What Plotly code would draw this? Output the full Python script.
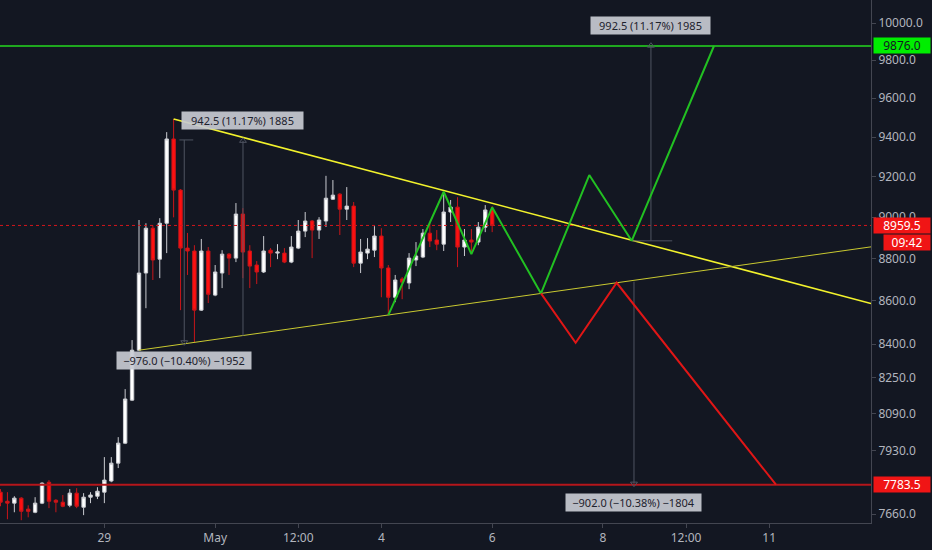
import math
import pandas as pd
import plotly.graph_objects as go

# BTC 3h candles, 27 Apr 03:00 -> 6 May 00:00
opens = [7752, 7714, 7706, 7727, 7681, 7668, 7706, 7794, 7718, 7710, 7697, 7748, 7689, 7731, 7735,
         7752, 7799, 7875, 7961, 8149, 8373, 8731, 8946, 8797, 8970, 9390, 9133, 8850, 8836, 8557,
         8836, 8627, 8731, 8821, 8802, 9015, 8836, 8769, 8736, 8840, 8826, 8826, 8783, 8850, 8932,
         8981, 8937, 8981, 9088, 9113, 9039, 9054, 8778, 8826, 8840, 8908, 8755, 8617, 8703, 8684,
         8793, 8807, 8922, 8889, 8869, 9025, 9049, 8855, 8889, 8879, 8951, 9035]
highs = [7765, 7752, 7735, 7731, 7697, 7731, 7794, 7803, 7723, 7740, 7765, 7769, 7748, 7752, 7773,
         7901, 7901, 7987, 8198, 8419, 8986, 8970, 8960, 8995, 9425, 9492, 9138, 8923, 8864, 8894,
         8855, 8769, 8840, 8826, 9069, 9044, 8864, 8788, 8908, 8850, 8869, 8850, 8908, 8986, 9025,
         8986, 9000, 9204, 9183, 9118, 9148, 9074, 8894, 8898, 8956, 8946, 8769, 8722, 8712, 8826,
         8879, 8942, 8970, 8937, 9123, 9084, 9098, 8942, 8942, 8976, 9059, 9054]
lows = [7693, 7639, 7668, 7635, 7647, 7664, 7702, 7685, 7668, 7689, 7689, 7685, 7656, 7706, 7723,
        7706, 7794, 7854, 7957, 8145, 8369, 8566, 8698, 8707, 8826, 8999, 8557, 8722, 8409, 8553,
        8590, 8622, 8660, 8722, 8783, 8707, 8660, 8679, 8731, 8759, 8797, 8778, 8778, 8845, 8903,
        8802, 8894, 8952, 9084, 8913, 8986, 8759, 8731, 8797, 8807, 8617, 8534, 8594, 8608, 8655,
        8764, 8802, 8855, 8840, 8836, 8976, 8759, 8812, 8831, 8864, 8927, 8927]
closes = [7710, 7706, 7727, 7672, 7672, 7706, 7790, 7714, 7710, 7693, 7748, 7693, 7731, 7740, 7756,
          7803, 7875, 7961, 8154, 8373, 8731, 8946, 8793, 8970, 9390, 9133, 8850, 8836, 8557, 8836,
          8631, 8736, 8821, 8802, 9015, 8831, 8764, 8736, 8836, 8826, 8831, 8783, 8855, 8932, 8981,
          8937, 8986, 9093, 9108, 9039, 9054, 8778, 8831, 8845, 8908, 8755, 8617, 8698, 8688, 8802,
          8812, 8922, 8884, 8869, 9025, 9049, 8855, 8889, 8879, 8951, 9035, 8959.5]
times = pd.date_range("2020-04-27 03:00", periods=len(opens), freq="3h")

# drawings
x_start, x_end = "2020-04-27 02:47", "2020-05-12 20:07"
upper_t = ["2020-04-30 06:00", x_end]
upper_p = [9492, 8588]
lower_t = ["2020-04-29 15:00", x_end]
lower_p = [8373, 8856]
green_t = ["2020-05-04 03:00", "2020-05-05 03:00", "2020-05-05 15:00", "2020-05-06 00:00",
           "2020-05-06 21:09", "2020-05-07 18:04", "2020-05-08 12:26", "2020-05-10 00:05"]
green_p = [8534, 9125, 8821, 9048, 8635, 9208, 8885, 9876]
red_t = ["2020-05-06 21:09", "2020-05-07 12:10", "2020-05-08 05:56", "2020-05-11 02:57"]
red_p = [8635, 8407, 8685, 7783.5]
target_high = 9876.0
target_low = 7783.5
last_price = 8959.5

# price range measurements: time, from, to, label
measures = [
    ("2020-04-30 10:36", 9385, 8409, "\u2212976.0 (\u221210.40%) \u22121952", 134),
    ("2020-05-01 12:03", 8438, 9380.5, "942.5 (11.17%) 1885", 121),
    ("2020-05-08 20:47", 8885, 9877.5, "992.5 (11.17%) 1985", 119),
    ("2020-05-08 13:26", 8690, 7788, "\u2212902.0 (\u221210.38%) \u22121804", 135),
]

x_tickvals = ["2020-04-29", "2020-05-01", "2020-05-02 12:00", "2020-05-04", "2020-05-06",
              "2020-05-08", "2020-05-09 12:00", "2020-05-11"]
x_ticktext = ["29", "May", "12:00", "4", "6", "8", "12:00", "11"]
y_tickvals = [7660, 7930, 8090, 8250, 8400, 8600, 8800, 9000, 9200, 9400, 9600, 9800, 10000]
y_ticktext = [f"{v:.1f}" for v in y_tickvals]

bg = "#131722"
axis_col = "#434651"
text_col = "#b2b5be"
font = "Noto Sans"

fig = go.Figure()

fig.add_trace(go.Candlestick(
    x=times, open=opens, high=highs, low=lows, close=closes,
    increasing=dict(line=dict(color="#c9cbd0", width=1), fillcolor="#ffffff"),
    decreasing=dict(line=dict(color="#c8161a", width=1), fillcolor="#ff1010"),
    whiskerwidth=0, hoverinfo="skip", showlegend=False,
))


def line(xs, ys, color, width=2, dash="solid"):
    fig.add_trace(go.Scatter(x=xs, y=ys, mode="lines", line=dict(color=color, width=width, dash=dash),
                             hoverinfo="skip", showlegend=False))


line([x_start, x_end], [last_price, last_price], "#d3161b", 1, "dot")
line([x_start, x_end], [target_high, target_high], "#1fa81f", 2)
line([x_start, x_end], [target_low, target_low], "#b5161b", 2)
line(upper_t, upper_p, "#f2f22c", 1.6)
line(lower_t, lower_p, "#c9c930", 1)

# measurement tools
grey = "#4f5461"
for t, p0, p1, txt, w in measures:
    line([t, t], [p0, p1], grey, 1)
    up = p1 > p0
    fig.add_trace(go.Scatter(x=[t], y=[p1], mode="markers",
                             marker=dict(symbol="triangle-up-open" if up else "triangle-down-open",
                                         size=6, color=grey, line=dict(width=1, color=grey)),
                             hoverinfo="skip", showlegend=False))
    fig.add_annotation(x=t, y=math.log10(p1), xref="x", yref="y", text=txt, showarrow=False,
                       yanchor="bottom" if up else "top", yshift=11 if up else -9,
                       width=w, height=17, borderpad=0, bgcolor="rgba(200,203,210,0.92)",
                       font=dict(family=font, size=11, color="#1e222d"))
line(["2020-04-30 08:30", "2020-04-30 14:30"], [9385, 9385], grey, 1)
line(["2020-05-08 12:29", "2020-05-09 06:00"], [8885, 8885], grey, 1)

line(green_t, green_p, "#22c022", 2)
line(red_t, red_p, "#e01616", 2)

# price tags on the right axis
tags = [(target_high, "9876.0", "#00ee00", "#131722", 0, 0, 56),
        (last_price, "8959.5", "#f01515", "#ffffff", 0, 0, 56),
        (last_price, "09:42", "#f01515", "#ffffff", 10, -17, 46),
        (target_low, "7783.5", "#f01515", "#ffffff", 0, 0, 56)]
for p, txt, bgc, fc, xs, ys, w in tags:
    fig.add_annotation(x=1, xref="paper", y=math.log10(p), yref="y", text=txt, showarrow=False,
                       xanchor="left", yanchor="middle", xshift=2 + xs, yshift=ys,
                       width=w, height=15, borderpad=0, bgcolor=bgc,
                       font=dict(family=font, size=12, color=fc))

fig.update_layout(
    width=932, height=550,
    margin=dict(l=0, r=61, t=0, b=27),
    paper_bgcolor=bg, plot_bgcolor=bg,
    font=dict(family=font, size=12, color=text_col),
    xaxis=dict(range=[x_start, x_end], rangeslider=dict(visible=False), showgrid=False, zeroline=False,
               showline=True, linecolor=axis_col, ticks="outside", ticklen=4, tickcolor=axis_col,
               tickvals=x_tickvals, ticktext=x_ticktext, tickfont=dict(size=12, color=text_col)),
    yaxis=dict(type="log", side="right", range=[math.log10(7623.4), math.log10(10125.6)],
               showgrid=False, zeroline=False, showline=True, linecolor=axis_col, ticks="outside",
               ticklen=4, tickcolor=axis_col, tickvals=y_tickvals, ticktext=y_ticktext,
               tickfont=dict(size=12, color=text_col)),
)

# page has no body margin so the chart fills the window, no toolbar
fig.write_html("out.html", config={"displayModeBar": False},
               post_script="document.body.style.margin='0';")
